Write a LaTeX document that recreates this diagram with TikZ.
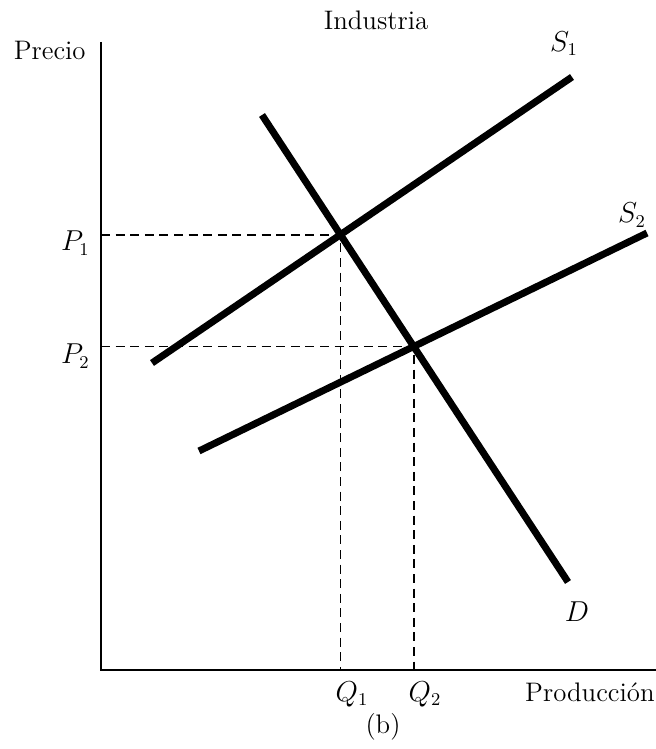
\documentclass[tikz,border=0pt]{standalone}
\begin{document}
\begin{tikzpicture}[x=0.5pt,y=-0.5pt,
  font=\fontsize{13.4}{16}\selectfont,
  axisline/.style={line width=1.1pt},
  curve/.style={line width=3.5pt},
  guide/.style={line width=0.9pt, dash pattern=on 4.5pt off 2.8pt},
  lbl/.style={inner sep=0pt}]
\useasboundingbox (0,0) rectangle (656,749);
% axes
\coordinate (O) at (101,670);
\coordinate (ytop) at (101,42);
\coordinate (xend) at (656,670);
\draw[axisline] (ytop) -- (O) -- (xend);
% curve end points
\coordinate (s1a) at (152,363);
\coordinate (s1b) at (572,77);
\coordinate (da) at (262,115);
\coordinate (db) at (568,582);
\coordinate (s2a) at (199,451);
\coordinate (s2b) at (647,233);
% equilibria
\coordinate (E1) at (intersection of s1a--s1b and da--db);
\coordinate (E2) at (intersection of s2a--s2b and da--db);
% guides
\draw[guide] (E1 -| O) -- (E1) -- (E1 |- O);
\draw[guide] (E2 -| O) -- (E2) -- (E2 |- O);
% curves
\draw[curve] (s1a) -- (s1b);
\draw[curve] (s2a) -- (s2b);
\draw[curve] (da) -- (db);
% labels
\node[lbl] (title) at (376,20) {Industria};
\node[lbl,anchor=east] (precio) at (86,50) {Precio};
\node[lbl,anchor=east] (prod) at (655,692) {Producción};
\node[lbl] (b) at (383,727) {(b)};
\node[lbl] (S1) at (564,44) {$S_1$};
\node[lbl] (S2) at (632,215) {$S_2$};
\node[lbl] (D) at (577,612) {$D$};
\node[lbl,anchor=east] (P1) at (90,243) {$P_1$};
\node[lbl,anchor=east] (P2) at (90,356) {$P_2$};
\node[lbl] (Q1) at (352,694) {$Q_1$};
\node[lbl] (Q2) at (425,694) {$Q_2$};
\end{tikzpicture}
\end{document}
